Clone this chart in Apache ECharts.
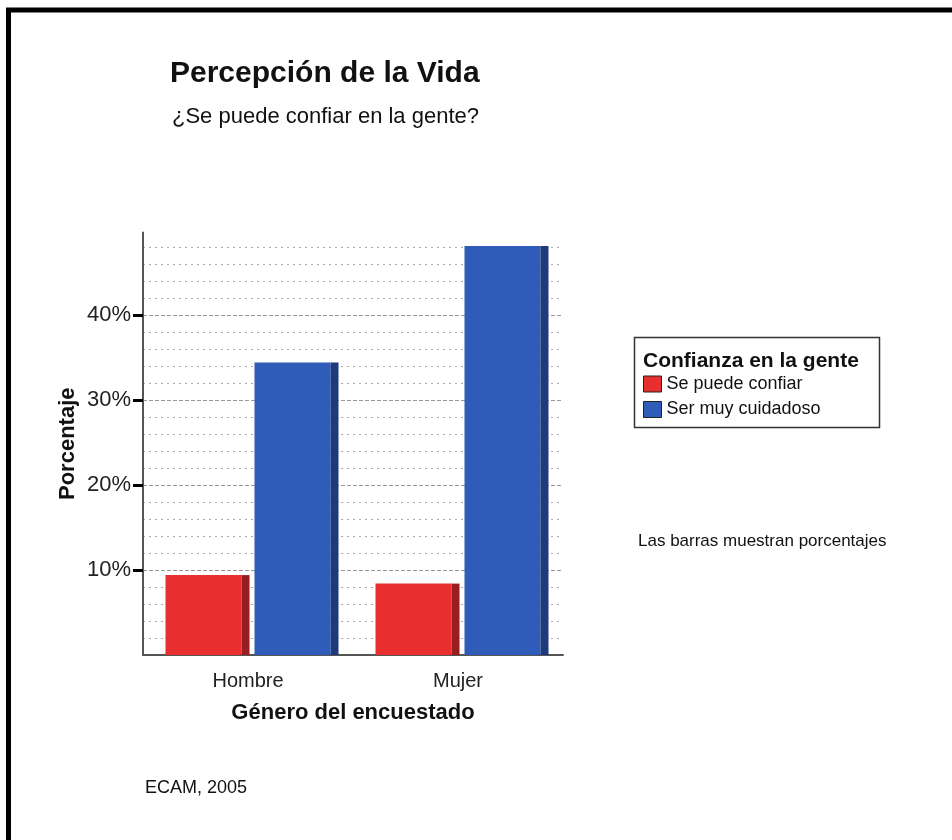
<!DOCTYPE html>
<html>
<head>
<meta charset="utf-8">
<title>Percepción de la Vida</title>
<script src="https://cdn.jsdelivr.net/npm/echarts@6/dist/echarts.min.js"></script>
<style>
  html, body { margin: 0; padding: 0; background: #fff; }
  #main { width: 952px; height: 840px; }
</style>
</head>
<body>
<div id="main"></div>
<script>
// datos (porcentajes)
var categories = ['Hombre', 'Mujer'];
var seriesNames = ['Se puede confiar', 'Ser muy cuidadoso'];
var confiar = [9.4, 8.4];
var cuidadoso = [34.4, 48.1];
var yTicks = [10, 20, 30, 40];

var FONT = "'Liberation Sans', Arial, sans-serif";
var RED = '#E82E2E', RED_SIDE = '#981E22';
var BLUE = '#2E5CB8', BLUE_SIDE = '#1F3A7A';
var FACE_W = 76, SIDE_W = 8, HALF_GAP = 6.5;

// barra con cara frontal + lateral oscura (efecto 3D de SPSS)
function barShape(left, face, side) {
  return function (params, api) {
    var top = api.coord([api.value(0), api.value(1)]);
    var base = api.coord([api.value(0), 0]);
    var x0 = left ? top[0] - HALF_GAP - FACE_W : top[0] + HALF_GAP;
    var h = base[1] - top[1];
    return {
      type: 'group',
      children: [
        { type: 'rect', shape: { x: x0, y: top[1], width: FACE_W, height: h }, style: { fill: face } },
        { type: 'rect', shape: { x: x0 + FACE_W, y: top[1], width: SIDE_W, height: h }, style: { fill: side } }
      ]
    };
  };
}

var chart = echarts.init(document.getElementById('main'));

var option = {
  backgroundColor: '#fff',
  animation: false,
  textStyle: { fontFamily: FONT, color: '#111' },
  title: [
    {
      text: 'Percepción de la Vida',
      left: 170, top: 59, padding: 0,
      textStyle: { fontFamily: FONT, fontSize: 30, fontWeight: 'bold', color: '#111' }
    },
    {
      text: '¿Se puede confiar en la gente?',
      left: 172, top: 106, padding: 0,
      textStyle: { fontFamily: FONT, fontSize: 22, fontWeight: 'normal', color: '#111' }
    }
  ],
  legend: {
    orient: 'vertical',
    left: 643, top: 375, padding: 0,
    itemWidth: 18, itemHeight: 16, itemGap: 7.5,
    icon: 'rect',
    selectedMode: false,
    textStyle: { fontFamily: FONT, fontSize: 18, color: '#111' },
    data: [
      { name: seriesNames[0], itemStyle: { color: RED, borderColor: '#222', borderWidth: 1 } },
      { name: seriesNames[1], itemStyle: { color: BLUE, borderColor: '#222', borderWidth: 1 } }
    ]
  },
  grid: { left: 143, right: 389, top: 232.5, bottom: 185, containLabel: false },
  xAxis: {
    type: 'category',
    data: categories,
    name: 'Género del encuestado',
    nameLocation: 'middle',
    nameGap: 47,
    nameMoveOverlap: false,
    nameTextStyle: { fontFamily: FONT, fontSize: 22, fontWeight: 'bold', color: '#111' },
    axisLine: { lineStyle: { color: '#555', width: 2 } },
    axisTick: { alignWithLabel: true, length: 8, lineStyle: { color: '#000', width: 3 } },
    axisLabel: { fontFamily: FONT, fontSize: 20, color: '#222', margin: 16 }
  },
  yAxis: {
    type: 'value',
    min: 0, max: 49.7, interval: 10,
    name: 'Porcentaje',
    nameLocation: 'middle',
    nameGap: 64,
    nameMoveOverlap: false,
    nameTextStyle: { fontFamily: FONT, fontSize: 22, fontWeight: 'bold', color: '#111' },
    axisLine: { show: true, lineStyle: { color: '#555', width: 2 } },
    axisTick: { show: true, customValues: yTicks, length: 10, lineStyle: { color: '#000', width: 3 } },
    axisLabel: { customValues: yTicks, formatter: '{value}%', fontFamily: FONT, fontSize: 22, color: '#222', margin: 12 },
    splitLine: { show: true, lineStyle: { color: '#999', width: 1, type: [4, 2] } },
    minorTick: { show: false, splitNumber: 5 },
    minorSplitLine: { show: true, lineStyle: { color: '#aaa', width: 1, type: [2, 4] } }
  },
  series: [
    {
      name: seriesNames[0],
      type: 'custom',
      itemStyle: { color: RED },
      renderItem: barShape(true, RED, RED_SIDE),
      data: confiar.map(function (v, i) { return [i, v]; })
    },
    {
      name: seriesNames[1],
      type: 'custom',
      itemStyle: { color: BLUE },
      renderItem: barShape(false, BLUE, BLUE_SIDE),
      data: cuidadoso.map(function (v, i) { return [i, v]; })
    }
  ],
  graphic: [
    // marco exterior (recortado a la derecha y abajo)
    { type: 'rect', shape: { x: 8.5, y: 10, width: 1000, height: 900 }, style: { fill: 'none', stroke: '#000', lineWidth: 5 }, z: 10 },
    // caja de la leyenda
    { type: 'rect', shape: { x: 634.5, y: 337.5, width: 245, height: 90 }, style: { fill: 'none', stroke: '#333', lineWidth: 1.5 } },
    { type: 'text', x: 643, y: 350.5, style: { text: 'Confianza en la gente', font: 'bold 21px ' + FONT, fill: '#111', verticalAlign: 'top' } },
    { type: 'text', x: 638, y: 533, style: { text: 'Las barras muestran porcentajes', font: '17px ' + FONT, fill: '#111', verticalAlign: 'top' } },
    { type: 'text', x: 145, y: 779, style: { text: 'ECAM, 2005', font: '18px ' + FONT, fill: '#111', verticalAlign: 'top' } }
  ]
};

chart.setOption(option);
</script>
</body>
</html>
